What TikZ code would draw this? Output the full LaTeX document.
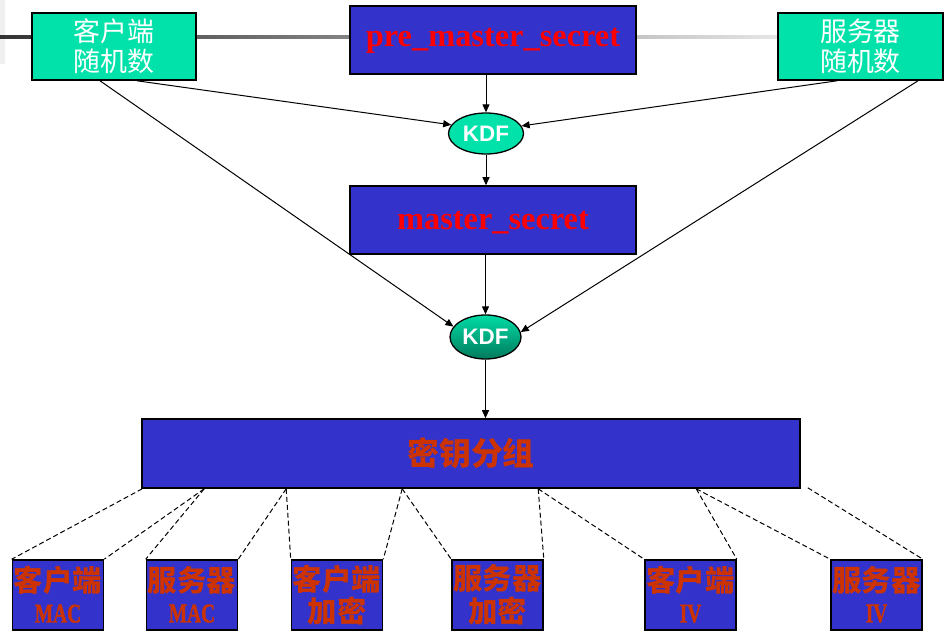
\documentclass[tikz,border=0pt]{standalone}
\usepackage{fontspec}
\usepackage{graphicx}
\usetikzlibrary{arrows.meta,shapes.geometric}
\newfontfamily\cjk{Noto Sans CJK SC}
\newfontfamily\serb{Liberation Serif}
\newfontfamily\serhv[BoldFeatures={FakeBold=1.5}]{Liberation Serif}
\newfontfamily\sansf{Liberation Sans}
\newcommand\narrowlat[1]{\raisebox{1.5bp}{\scalebox{0.72}[1]{\serhv\bfseries\fontsize{27}{32.5}\selectfont #1}}}
\definecolor{boxblue}{HTML}{3333CC}
\definecolor{boxgreen}{HTML}{00E2AA}
\definecolor{redtxt}{HTML}{FF0000}
\definecolor{browntxt}{HTML}{CC3300}
\definecolor{kdftop}{HTML}{00DCA6}
\definecolor{kdfbot}{HTML}{007A5C}
\begin{document}
\begin{tikzpicture}[x=1bp,y=-1bp,
  rndbox/.style={draw=black,line width=1.6bp,fill=boxgreen,minimum width=164bp,minimum height=67bp,inner sep=0pt,align=center,text=white,font=\cjk\fontsize{27}{30}\selectfont},
  secbox/.style={draw=black,line width=1.6bp,fill=boxblue,minimum width=286bp,minimum height=68bp,inner sep=0pt,text=redtxt,text depth=0pt,font=\serb\bfseries\fontsize{32.5}{34}\selectfont},
  kdfnode/.style={ellipse,draw=black,line width=1.3bp,inner sep=0pt,text=white,font=\sansf\bfseries\fontsize{22.5}{24}\selectfont},
  keybox/.style={draw=black,line width=1.6bp,fill=boxblue,minimum width=91bp,minimum height=70bp,inner sep=0pt,align=center,text=browntxt,font=\cjk\bfseries\fontsize{29.5}{32.5}\selectfont},
  conn/.style={line width=1bp,-{Triangle[length=8bp,width=7bp]}},
  dconn/.style={line width=1bp,dash pattern=on 5bp off 3bp}
]
\useasboundingbox (0,0) rectangle (950,640);
\fill[black!6] (0,0) rectangle (5,64);
\shade[left color=black!80,right color=black!10] (0,35.5) rectangle (778,38.5);

\node[rndbox] (cr) at (114,46.5) {客户端\\随机数};
\node[secbox,text height=14bp] (pms) at (493,40) {pre\_master\_secret};
\node[rndbox,minimum width=165bp] (sr) at (860.5,46.5) {服务器\\随机数};
\node[kdfnode,minimum width=75bp,minimum height=41bp,fill=boxgreen] (k1) at (486,133.5) {KDF};
\node[secbox,text height=20bp] (ms) at (493,220) {master\_secret};
\node[kdfnode,minimum width=71bp,minimum height=44bp,top color=kdftop,bottom color=kdfbot] (k2) at (485.5,337) {KDF};
\node[draw=black,line width=1.6bp,fill=boxblue,minimum width=658bp,minimum height=69bp,inner sep=0pt,text=browntxt,font=\cjk\bfseries\fontsize{32}{34}\selectfont] (kg) at (471,453.5) {\raisebox{-2bp}{密钥分组}};

\node[keybox] (b1) at (58,595) {客户端\\\narrowlat{MAC}};
\node[keybox] (b2) at (192,595) {服务器\\\narrowlat{MAC}};
\node[keybox] (b3) at (337,595) {客户端\\加密};
\node[keybox] (b4) at (497.5,595) {服务器\\加密};
\node[keybox] (b5) at (690.5,595) {客户端\\\narrowlat{IV}};
\node[keybox] (b6) at (876.5,595) {服务器\\\narrowlat{IV}};

% arrows into first KDF
\draw[conn] (pms.south -| k1.center) -- (k1.north);
\draw[conn] ([xshift=23bp]cr.south) -- (k1.166);
\draw[conn] ([xshift=-23.5bp]sr.south) -- (k1.12);
\draw[conn] (k1.south) -- (ms.north -| k1.center);
% arrows into second KDF
\draw[conn] (ms.south -| k2.center) -- (k2.north);
\draw[conn] ([xshift=-14bp]cr.south) -- (k2.162);
\draw[conn] ([xshift=57.5bp]sr.south) -- (k2.8);
\draw[conn] (k2.south) -- (kg.north -| k2.center);

% dashed lines to key parts
\coordinate (d1) at ([xshift=1bp]kg.south west);
\coordinate (d2) at ([xshift=63bp]kg.south west);
\coordinate (d3) at ([xshift=145bp]kg.south west);
\coordinate (d4) at ([xshift=261bp]kg.south west);
\coordinate (d5) at ([xshift=397bp]kg.south west);
\coordinate (d6) at ([xshift=555bp]kg.south west);
\coordinate (d7) at ([xshift=7bp,yshift=1bp]kg.south east);
\draw[dconn] (d1) -- (b1.north west);
\draw[dconn] (d2) -- (b1.north east);
\draw[dconn] (d2) -- (b2.north west);
\draw[dconn] (d3) -- (b2.north east);
\draw[dconn] (d3) -- (b3.north west);
\draw[dconn] (d4) -- (b3.north east);
\draw[dconn] (d4) -- (b4.north west);
\draw[dconn] (d5) -- (b4.north east);
\draw[dconn] (d5) -- (b5.north west);
\draw[dconn] (d6) -- (b5.north east);
\draw[dconn] (d6) -- (b6.north west);
\draw[dconn] (d7) -- (b6.north east);
\end{tikzpicture}
\end{document}
